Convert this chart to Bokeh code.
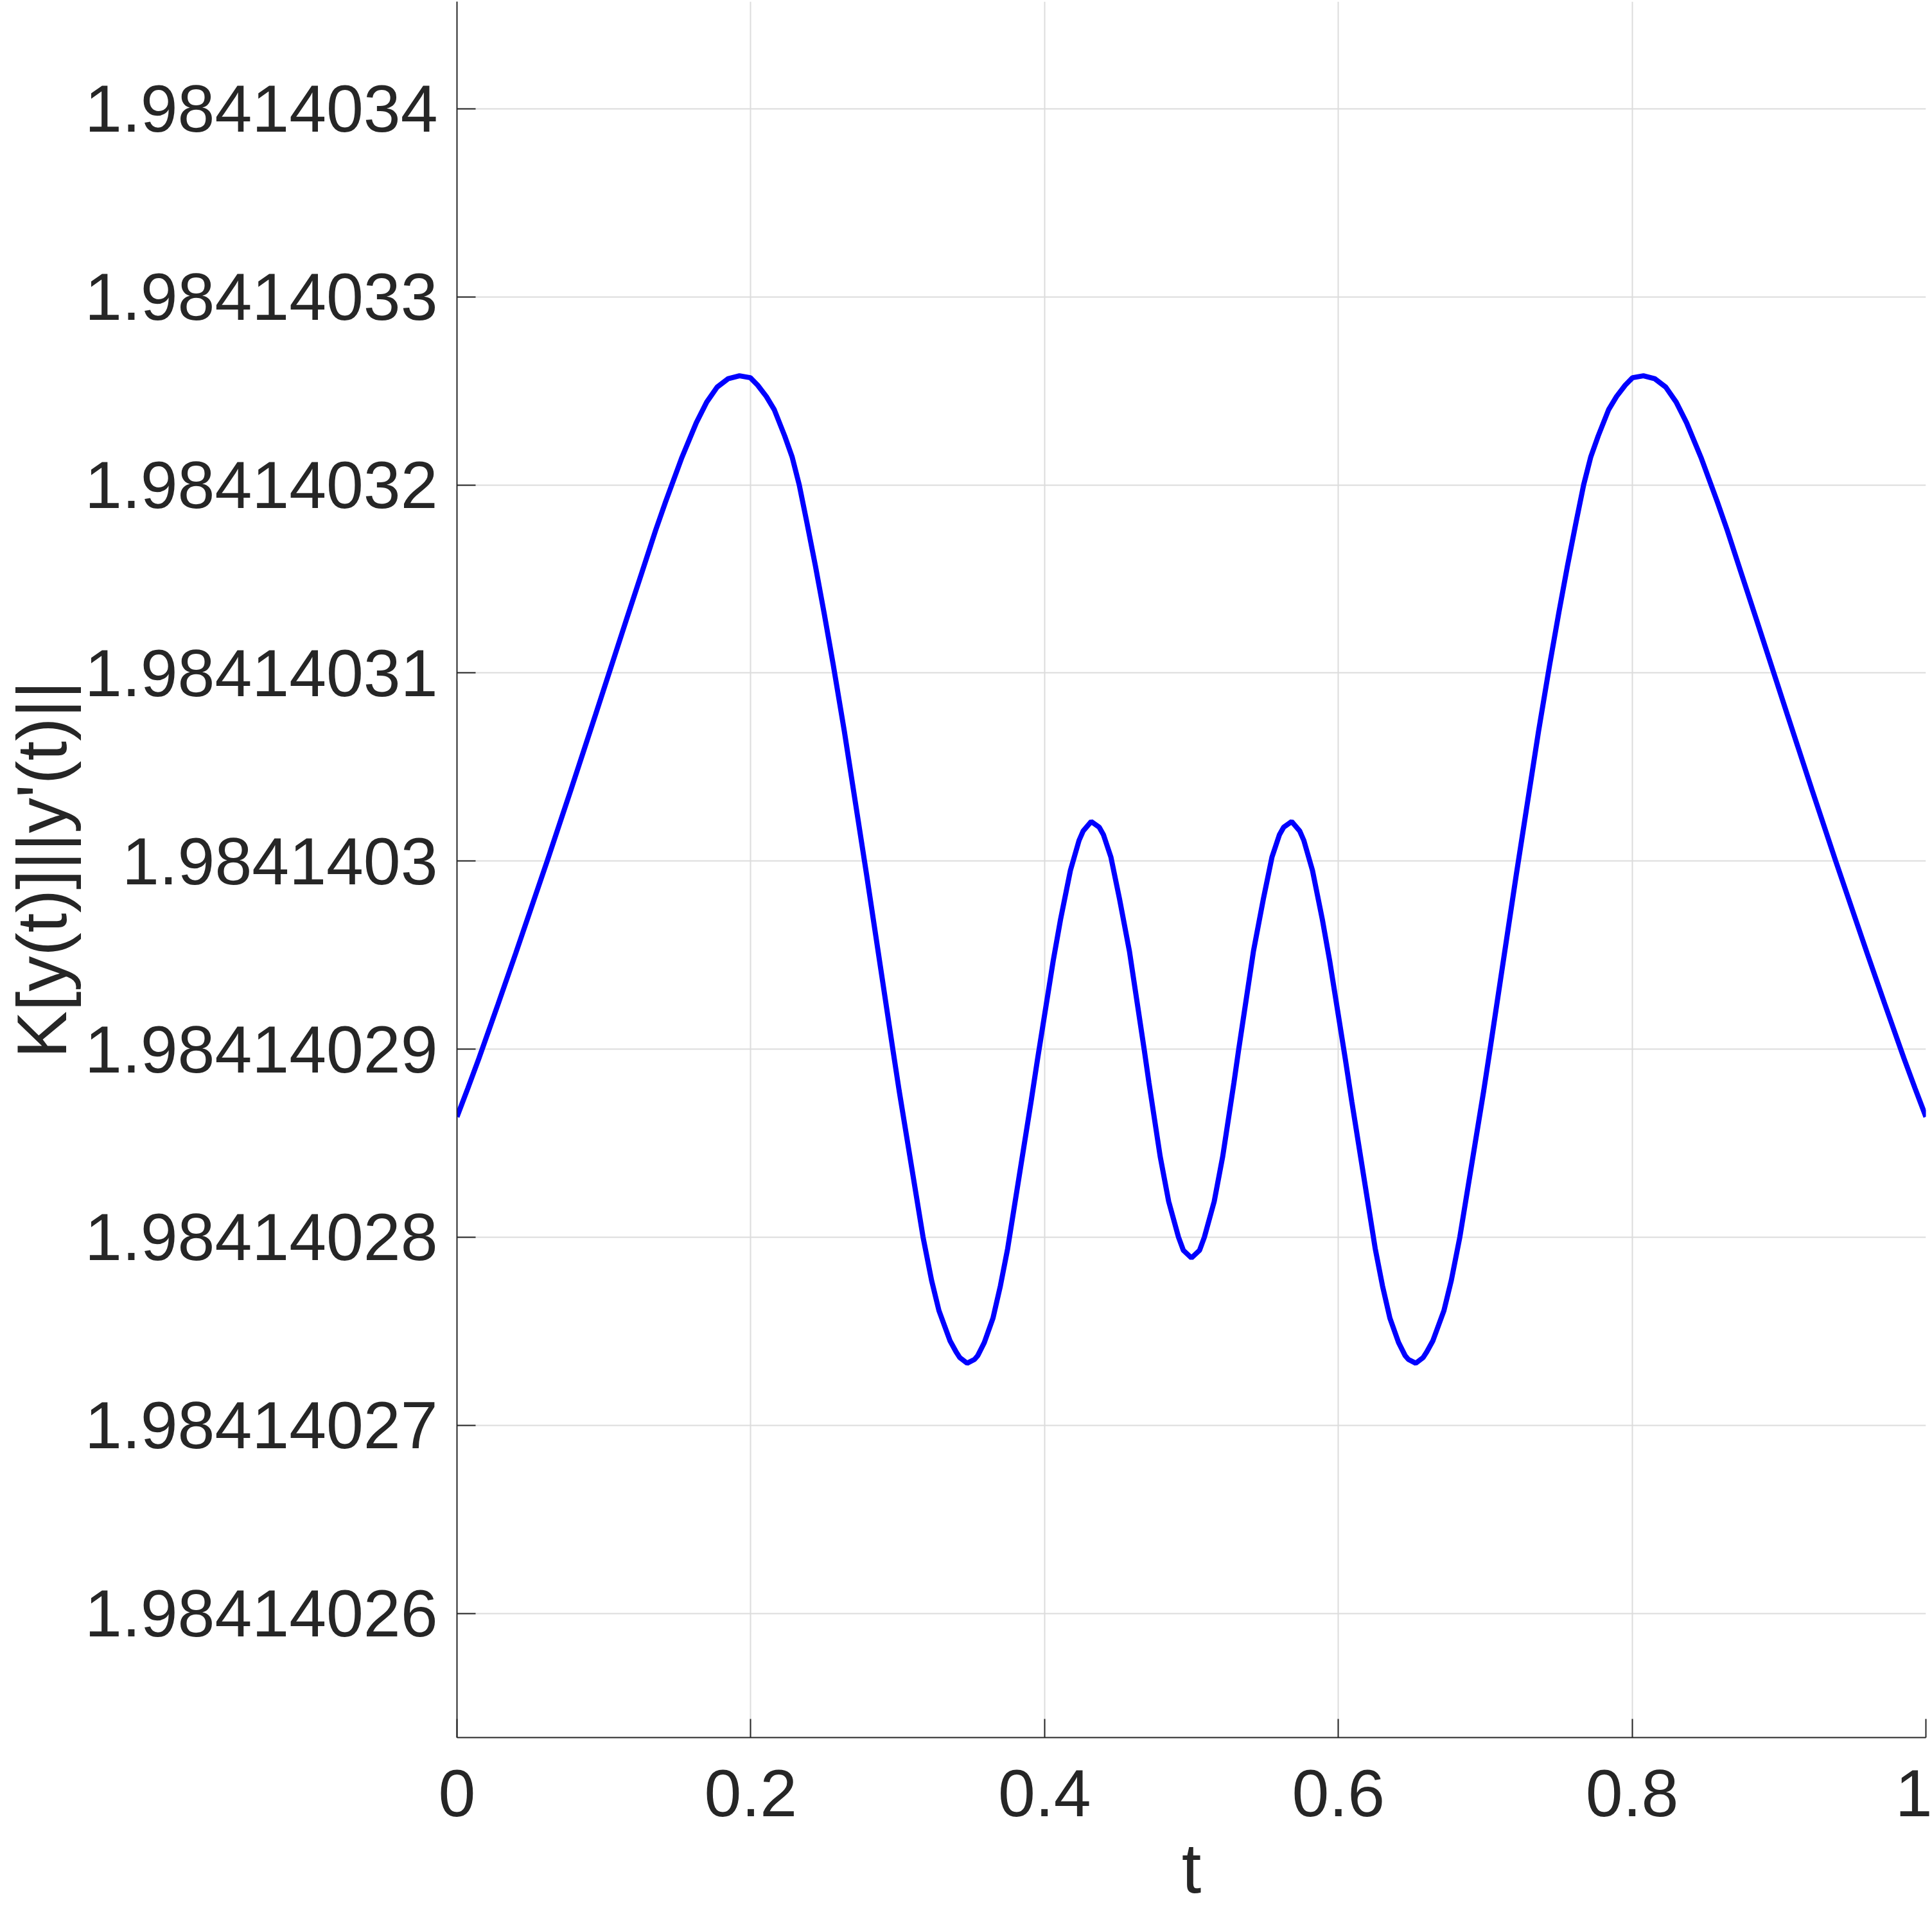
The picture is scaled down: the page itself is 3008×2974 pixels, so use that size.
from bokeh.plotting import figure
from bokeh.models import Range1d, FixedTicker, CustomJSTickFormatter
from bokeh.embed import file_html
from bokeh.resources import INLINE

# ---- data ----
BASE = 1.98414          # K values are BASE + offset * 1e-8
SCALE = 1e-8

t_values = [0.0, 0.0073, 0.0149, 0.028, 0.04, 0.0614, 0.0776, 0.0944, 0.1152, 0.1261,
            0.1353, 0.142, 0.1528, 0.1629, 0.17, 0.1771, 0.1847, 0.1923, 0.1997, 0.2047,
            0.2106, 0.216, 0.2231, 0.2281, 0.233, 0.2382, 0.244, 0.2499, 0.256, 0.2637,
            0.2788, 0.2967, 0.301, 0.3173, 0.3231, 0.3281, 0.3356, 0.3398, 0.3423, 0.3473,
            0.3523, 0.3545, 0.359, 0.3649, 0.3699, 0.3749, 0.3908, 0.3953, 0.4059, 0.4109,
            0.4176, 0.4235, 0.4263, 0.4318, 0.4372, 0.4401, 0.4452, 0.451, 0.4578, 0.4678,
            0.4711, 0.4787, 0.4845, 0.4912, 0.4945, 0.5,
            0.5055, 0.5088, 0.5155, 0.5213, 0.5289, 0.5322, 0.5422, 0.549, 0.5548, 0.5599,
            0.5628, 0.5682, 0.5737, 0.5765, 0.5824, 0.5891, 0.5941, 0.6047, 0.6092, 0.6251,
            0.6301, 0.6351, 0.641, 0.6455, 0.6477, 0.6527, 0.6577, 0.6602, 0.6644, 0.6719,
            0.6769, 0.6827, 0.699, 0.7033, 0.7212, 0.7363, 0.744, 0.7501, 0.756, 0.7618,
            0.767, 0.7719, 0.7769, 0.784, 0.7894, 0.7953, 0.8003, 0.8077, 0.8153, 0.8229,
            0.83, 0.8371, 0.8472, 0.858, 0.8647, 0.8739, 0.8848, 0.9056, 0.9224, 0.9386,
            0.96, 0.972, 0.9851, 0.9927, 1.0]

k_offset_1e8 = [28.64, 28.79, 28.95, 29.24, 29.51, 30.00, 30.38, 30.78, 31.28, 31.54,
                31.76, 31.91, 32.14, 32.33, 32.44, 32.52, 32.565, 32.58, 32.57, 32.53,
                32.47, 32.40, 32.26, 32.15, 32.00, 31.80, 31.57, 31.32, 31.05, 30.69,
                29.93, 29.00, 28.78, 28.00, 27.77, 27.61, 27.45, 27.39, 27.36, 27.33,
                27.35, 27.37, 27.44, 27.57, 27.74, 27.94, 28.72, 28.95, 29.47, 29.69,
                29.95, 30.11, 30.16, 30.21, 30.18, 30.14, 30.02, 29.80, 29.52, 29.00,
                28.82, 28.43, 28.19, 28.00, 27.93, 27.89,
                27.93, 28.00, 28.19, 28.43, 28.82, 29.00, 29.52, 29.80, 30.02, 30.14,
                30.18, 30.21, 30.16, 30.11, 29.95, 29.69, 29.47, 28.95, 28.72, 27.94,
                27.74, 27.57, 27.44, 27.37, 27.35, 27.33, 27.36, 27.39, 27.45, 27.61,
                27.77, 28.00, 28.78, 29.00, 29.93, 30.69, 31.05, 31.32, 31.57, 31.80,
                32.00, 32.15, 32.26, 32.40, 32.47, 32.53, 32.57, 32.58, 32.565, 32.52,
                32.44, 32.33, 32.14, 31.91, 31.76, 31.54, 31.28, 30.78, 30.38, 30.00,
                29.51, 29.24, 28.95, 28.79, 28.64]

x_ticks = [0, 0.2, 0.4, 0.6, 0.8, 1.0]
y_tick_offsets = [26, 27, 28, 29, 30, 31, 32, 33, 34]
y_limits_offset = [25.3396, 34.5696]

k_values = [BASE + v * SCALE for v in k_offset_1e8]
y_ticks = [BASE + v * SCALE for v in y_tick_offsets]

TXT = "#262626"
FONT = "Liberation Sans"

p = figure(width=3008, height=2974, output_backend="svg", toolbar_location=None,
           x_range=Range1d(0, 1),
           y_range=Range1d(BASE + y_limits_offset[0] * SCALE, BASE + y_limits_offset[1] * SCALE),
           min_border_left=710, min_border_right=10, min_border_top=2, min_border_bottom=269)
p.outline_line_color = None
p.background_fill_color = "white"
p.border_fill_color = "white"

p.line(t_values, k_values, line_color="#0000ff", line_width=8)

p.xaxis.ticker = FixedTicker(ticks=x_ticks)
p.yaxis.ticker = FixedTicker(ticks=y_ticks)
p.xaxis.formatter = CustomJSTickFormatter(code="return String(parseFloat(tick.toFixed(2)));")
p.yaxis.formatter = CustomJSTickFormatter(code="return String(parseFloat(tick.toFixed(8)));")

for ax in (p.xaxis, p.yaxis):
    ax.axis_line_color = TXT
    ax.axis_line_width = 2
    ax.major_tick_line_color = TXT
    ax.major_tick_line_width = 2
    ax.major_tick_in = 29
    ax.major_tick_out = 0
    ax.minor_tick_line_color = None
    ax.major_label_text_font = FONT
    ax.major_label_text_font_size = "104px"
    ax.major_label_text_color = TXT
    ax.axis_label_text_font = FONT
    ax.axis_label_text_font_size = "110px"
    ax.axis_label_text_font_style = "normal"
    ax.axis_label_text_color = TXT

p.xaxis.axis_label = "t"
p.yaxis.axis_label = "K[y(t)]||y'(t)||"
p.xaxis.major_label_standoff = 50
p.xaxis.axis_label_text_line_height = 0.5
p.xaxis.axis_label_standoff = 16
p.yaxis.major_label_standoff = 30
p.yaxis.axis_label_standoff = 3

for g in (p.xgrid, p.ygrid):
    g.grid_line_color = "#dcdcdc"
    g.grid_line_width = 2

open("out.html", "w").write(file_html(p, INLINE))
